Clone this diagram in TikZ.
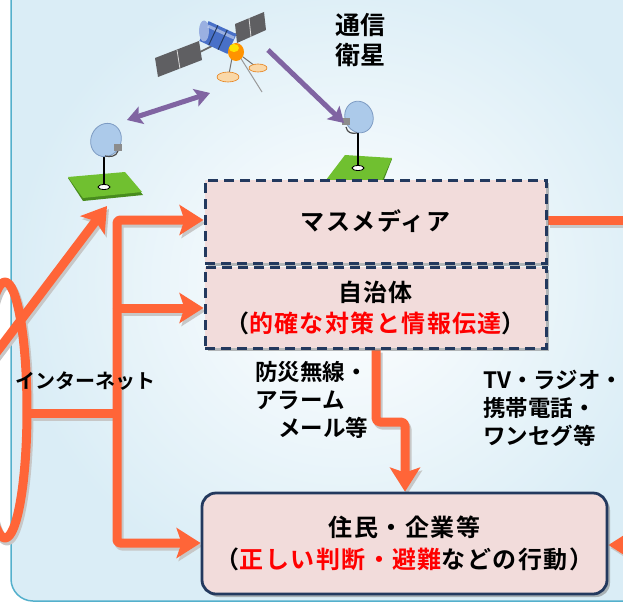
\documentclass[tikz,border=0pt]{standalone}
\usepackage{fontspec}
\newfontfamily\jpb{Noto Sans CJK JP Bold}
\newfontfamily\jpbs{Noto Sans CJK JP Bold}[LetterSpace=6]
\usetikzlibrary{arrows.meta,shadows}

\definecolor{orng}{RGB}{255,101,56}
\definecolor{navy}{RGB}{35,57,94}
\definecolor{boxpink}{RGB}{242,220,219}
\definecolor{purp}{RGB}{128,100,162}
\definecolor{panelblue}{RGB}{218,237,246}
\definecolor{paneledge}{RGB}{84,176,204}
\definecolor{grass}{RGB}{112,192,48}
\definecolor{grassdk}{RGB}{72,140,30}
\definecolor{dishblue}{RGB}{172,202,234}
\definecolor{dishedge}{RGB}{125,155,195}
\definecolor{solar}{RGB}{95,95,98}
\definecolor{satblue}{RGB}{72,112,200}
\definecolor{padpeach}{RGB}{250,216,168}

\newcommand{\boxfnt}{\jpbs\fontsize{24pt}{31pt}\selectfont}
\newcommand{\lowfnt}{\jpbs\fontsize{24pt}{32pt}\selectfont}
\newcommand{\smfnt}{\jpb\fontsize{22.5pt}{28pt}\selectfont}
\newcommand{\satfnt}{\jpb\fontsize{25pt}{30pt}\selectfont}
\newcommand{\netfnt}{\jpb\fontsize{20pt}{24pt}\selectfont}

\pgfdeclarelayer{bg}
\pgfdeclarelayer{flows}
\pgfsetlayers{bg,flows,main}

\tikzset{
  tip/.style={-{Stealth[length=24pt,width=30pt,inset=5pt]}},
  ptip/.style={-{Stealth[length=15pt,width=18pt,inset=3pt]}},
  pdouble/.style={{Stealth[length=15pt,width=18pt,inset=3pt]}-{Stealth[length=15pt,width=18pt,inset=3pt]}},
  satlink/.style={draw=purp, line width=5pt},
  dashbox/.style={draw=navy, line width=3pt, dash pattern=on 10pt off 6pt,
    fill=boxpink, inner sep=0pt, align=center,
    drop shadow={shadow xshift=3pt, shadow yshift=-3pt, fill=black!50, opacity=0.55}},
  roundbox/.style={draw=navy, line width=2.8pt, rounded corners=14pt,
    fill=boxpink, inner sep=0pt, align=center,
    drop shadow={shadow xshift=3pt, shadow yshift=-3pt, fill=black!50, opacity=0.55}},
  lbl/.style={inner sep=0pt, text=black},
}

% all orange flow lines, drawn in the colour given
\newcommand{\flowpaths}[1]{%
  \begin{scope}[flow/.style={draw=#1, line width=9pt, line join=round}]
    \draw[flow] (5,410) ellipse [x radius=22, y radius=128];
    \draw[flow, tip] (-10,361) -- (dishLbase);
    \draw[flow] (netL) -- (tNet);
    \draw[flow, tip, rounded corners=3pt] (tMid) -- (tTop) -- (mass.west |- tTop);
    \draw[flow, tip, rounded corners=3pt] (tMid) -- (tBot) -- (jumin.west |- tBot);
    \draw[flow, tip] (tMid) -- (jichi.west |- tMid);
    \draw[flow] (mass.east |- massR) -- (massR);
    \draw[flow, tip] (juminR) -- (jumin.east |- juminR);
    \draw[flow, tip, rounded corners=4pt] (jichi.south -| z1) -- (z1) -- (z2) -- (jumin.north -| z2);
  \end{scope}}

\begin{document}
\begin{tikzpicture}[x=1pt, y=-1pt]
\path[use as bounding box] (0,0) rectangle (623,602);

% ---------- panel ----------
\begin{pgfonlayer}{bg}
  \clip (0,0) rectangle (623,602);
  \shade[inner color=white, outer color=panelblue, rounded corners=22pt] (11,-40) rectangle (680,601);
  \draw[paneledge, line width=1.5pt, rounded corners=22pt] (11,-40) rectangle (680,601);
\end{pgfonlayer}

% ---------- ground stations ----------
% left dish
\fill[grassdk] (68,178) -- (125,173) -- (143,195) -- (83,201) -- cycle;
\fill[grass] (68,177) -- (125,172) -- (142,192) -- (83,198) -- cycle;
\draw[black, line width=2.2pt] (104,155) -- (104,186);
\draw[black, fill=white, line width=0.8pt] (104,187) ellipse [x radius=6, y radius=2.5];
\draw[dishedge, fill=dishblue, line width=0.8pt, rotate around={-25:(106,140)}] (106,140) ellipse [x radius=15, y radius=17];
\draw[black!70, line width=1.2pt] (118,151) .. controls (116,157) and (110,157) .. (105,156);
\fill[black!45] (114,144) rectangle (122,151);
\coordinate (dishLtop) at (127,120);
\coordinate (dishLbase) at (107,206);

% right dish
\fill[grassdk] (345,156) -- (392,159) -- (381,187) -- (326,181) -- cycle;
\fill[grass] (345,155) -- (392,158) -- (380,185) -- (326,180) -- cycle;
\draw[black, line width=2.2pt] (358,132) -- (358,167);
\draw[black, fill=white, line width=0.8pt] (358,168) ellipse [x radius=6, y radius=2.5];
\draw[dishedge, fill=dishblue, line width=0.8pt, rotate around={20:(359,117)}] (359,117) ellipse [x radius=14, y radius=16];
\draw[black!70, line width=1.2pt] (346,127) .. controls (347,133) and (352,134) .. (357,133);
\fill[black!45] (342,118) rectangle (350,125);
\coordinate (dishRtop) at (344,123);

% ---------- satellite ----------
\fill[solar] (155,58) -- (199,41) -- (202,60) -- (158,77) -- cycle;
\draw[white!70!gray, line width=0.8pt] (177,50) -- (180,69);
\fill[solar] (235,24) -- (264,12) -- (266,30) -- (237,43) -- cycle;
\draw[white!70!gray, line width=0.8pt] (249,18) -- (251,37);
\draw[black!60, line width=1.6pt] (200,52) -- (236,34);
\fill[satblue] (199.4,40.9) -- (208.6,21.1) -- (236.6,34.1) -- (227.4,53.9) -- cycle;
\fill[satblue!55!white] (204,31) ellipse [x radius=5, y radius=10.5];
\draw[white, opacity=0.45, line width=3pt] (208,26) -- (234,38);
\draw[navy, line width=1pt] (208.7,45.2) -- (217.9,25.4) (218.1,49.6) -- (227.3,29.8);
\draw[black!40, line width=1pt] (240,57) -- (262,92);
\draw[black!55, line width=1pt] (232,58) -- (229,74) (243,57) -- (255,66);
\fill[orange!85!yellow] (236,52) ellipse [x radius=8, y radius=9];
\fill[yellow!85!orange] (234,48) ellipse [x radius=5, y radius=4];
\draw[orange!60!brown, fill=padpeach, line width=0.6pt] (228,77) ellipse [x radius=11, y radius=5];
\draw[orange!60!brown, fill=padpeach, line width=0.6pt] (258,68) ellipse [x radius=9, y radius=4];
\coordinate (satL) at (210,93);
\coordinate (satR) at (268,50);

% ---------- satellite links ----------
\draw[satlink, pdouble] (dishLtop) -- (satL);
\draw[satlink, ptip] (satR) -- (dishRtop);

% ---------- boxes ----------
\node[dashbox, minimum width=341pt, minimum height=83pt, font=\boxfnt] (mass) at (375.5,221.5) {マスメディア};
\node[dashbox, minimum width=341pt, minimum height=81pt, font=\boxfnt] (jichi) at (375.5,307.5)
  {自治体\\（\textcolor{red}{的確な対策と情報伝達}）};
\node[roundbox, minimum width=405pt, minimum height=101pt, font=\lowfnt] (jumin) at (404.5,543.5)
  {住民・企業等\\（\textcolor{red}{正しい判断・避難}などの行動）};

% ---------- labels ----------
\node[lbl, font=\satfnt, align=center] (satlbl) at (360,40) {通信\\衛星};
\node[lbl, font=\smfnt, align=left, anchor=west] (bousai) at (255,400)
  {防災無線・\\アラーム\\\hspace*{23pt}メール等};
\node[lbl, font=\smfnt, align=left, anchor=west] (media) at (483,408.5)
  {TV・ラジオ・\\携帯電話・\\ワンセグ等};
\node[lbl, font=\netfnt, anchor=west] (netlbl) at (15,381) {インターネット};

% ---------- junction points ----------
\coordinate (netL) at (27,413);
\coordinate (tTop) at (117,220);
\coordinate (tMid) at (117,308);
\coordinate (tNet) at (117,413);
\coordinate (tBot) at (117,543);
\coordinate (massR) at (640,220);
\coordinate (juminR) at (640,545);
\coordinate (z1) at (376,422);
\coordinate (z2) at (405,422);

% ---------- orange flows ----------
\begin{pgfonlayer}{flows}
  \clip (0,0) rectangle (623,602);
  \begin{scope}[transform canvas={xshift=2pt, yshift=-3pt}]
    \flowpaths{black!22}
  \end{scope}
  \flowpaths{orng}
\end{pgfonlayer}
\end{tikzpicture}
\end{document}
